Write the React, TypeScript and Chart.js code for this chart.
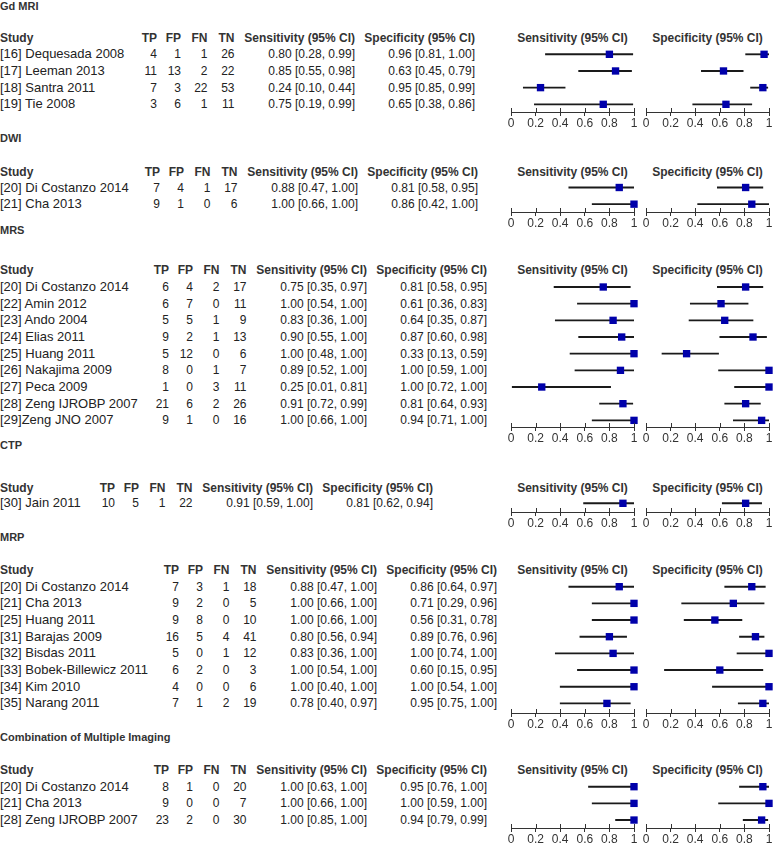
import React, { useEffect, useRef } from 'react';
import { Chart, registerables } from 'chart.js';

Chart.register(...registerables);

// ---------------- DATA ----------------
const GROUP_TITLES = ['Gd MRI', 'DWI', 'MRS', 'CTP', 'MRP', 'Combination of Multiple Imaging'];
const HEADER_LABELS = ['Study', 'TP', 'FP', 'FN', 'TN', 'Sensitivity (95% CI)', 'Specificity (95% CI)'];
const PLOT_HEADERS = ['Sensitivity (95% CI)', 'Specificity (95% CI)'];

// Gd MRI
const GD_STUDIES = ['[16] Dequesada 2008', '[17] Leeman 2013', '[18] Santra 2011', '[19] Tie 2008'];
const GD_TP = [4, 11, 7, 3];
const GD_FP = [1, 13, 3, 6];
const GD_FN = [1, 2, 22, 1];
const GD_TN = [26, 22, 53, 11];
const GD_SENS = [0.80, 0.85, 0.24, 0.75];
const GD_SENS_CI = [[0.28, 0.99], [0.55, 0.98], [0.10, 0.44], [0.19, 0.99]];
const GD_SPEC = [0.96, 0.63, 0.95, 0.65];
const GD_SPEC_CI = [[0.81, 1.00], [0.45, 0.79], [0.85, 0.99], [0.38, 0.86]];

// DWI
const DWI_STUDIES = ['[20] Di Costanzo 2014', '[21] Cha 2013'];
const DWI_TP = [7, 9];
const DWI_FP = [4, 1];
const DWI_FN = [1, 0];
const DWI_TN = [17, 6];
const DWI_SENS = [0.88, 1.00];
const DWI_SENS_CI = [[0.47, 1.00], [0.66, 1.00]];
const DWI_SPEC = [0.81, 0.86];
const DWI_SPEC_CI = [[0.58, 0.95], [0.42, 1.00]];

// MRS
const MRS_STUDIES = ['[20] Di Costanzo 2014', '[22] Amin 2012', '[23] Ando 2004', '[24] Elias 2011', '[25] Huang 2011',
  '[26] Nakajima 2009', '[27] Peca 2009', '[28] Zeng IJROBP 2007', '[29]Zeng JNO 2007'];
const MRS_TP = [6, 6, 5, 9, 5, 8, 1, 21, 9];
const MRS_FP = [4, 7, 5, 2, 12, 0, 0, 6, 1];
const MRS_FN = [2, 0, 1, 1, 0, 1, 3, 2, 0];
const MRS_TN = [17, 11, 9, 13, 6, 7, 11, 26, 16];
const MRS_SENS = [0.75, 1.00, 0.83, 0.90, 1.00, 0.89, 0.25, 0.91, 1.00];
const MRS_SENS_CI = [[0.35, 0.97], [0.54, 1.00], [0.36, 1.00], [0.55, 1.00], [0.48, 1.00], [0.52, 1.00], [0.01, 0.81], [0.72, 0.99], [0.66, 1.00]];
const MRS_SPEC = [0.81, 0.61, 0.64, 0.87, 0.33, 1.00, 1.00, 0.81, 0.94];
const MRS_SPEC_CI = [[0.58, 0.95], [0.36, 0.83], [0.35, 0.87], [0.60, 0.98], [0.13, 0.59], [0.59, 1.00], [0.72, 1.00], [0.64, 0.93], [0.71, 1.00]];

// CTP
const CTP_STUDIES = ['[30] Jain 2011'];
const CTP_TP = [10];
const CTP_FP = [5];
const CTP_FN = [1];
const CTP_TN = [22];
const CTP_SENS = [0.91];
const CTP_SENS_CI = [[0.59, 1.00]];
const CTP_SPEC = [0.81];
const CTP_SPEC_CI = [[0.62, 0.94]];

// MRP
const MRP_STUDIES = ['[20] Di Costanzo 2014', '[21] Cha 2013', '[25] Huang 2011', '[31] Barajas 2009', '[32] Bisdas 2011',
  '[33] Bobek-Billewicz 2011', '[34] Kim 2010', '[35] Narang 2011'];
const MRP_TP = [7, 9, 9, 16, 5, 6, 4, 7];
const MRP_FP = [3, 2, 8, 5, 0, 2, 0, 1];
const MRP_FN = [1, 0, 0, 4, 1, 0, 0, 2];
const MRP_TN = [18, 5, 10, 41, 12, 3, 6, 19];
const MRP_SENS = [0.88, 1.00, 1.00, 0.80, 0.83, 1.00, 1.00, 0.78];
const MRP_SENS_CI = [[0.47, 1.00], [0.66, 1.00], [0.66, 1.00], [0.56, 0.94], [0.36, 1.00], [0.54, 1.00], [0.40, 1.00], [0.40, 0.97]];
const MRP_SPEC = [0.86, 0.71, 0.56, 0.89, 1.00, 0.60, 1.00, 0.95];
const MRP_SPEC_CI = [[0.64, 0.97], [0.29, 0.96], [0.31, 0.78], [0.76, 0.96], [0.74, 1.00], [0.15, 0.95], [0.54, 1.00], [0.75, 1.00]];

// Combination of Multiple Imaging
const CMB_STUDIES = ['[20] Di Costanzo 2014', '[21] Cha 2013', '[28] Zeng IJROBP 2007'];
const CMB_TP = [8, 9, 23];
const CMB_FP = [1, 0, 2];
const CMB_FN = [0, 0, 0];
const CMB_TN = [20, 7, 30];
const CMB_SENS = [1.00, 1.00, 1.00];
const CMB_SENS_CI = [[0.63, 1.00], [0.66, 1.00], [0.85, 1.00]];
const CMB_SPEC = [0.95, 1.00, 0.94];
const CMB_SPEC_CI = [[0.76, 1.00], [0.59, 1.00], [0.79, 0.99]];

// ---------------- LAYOUT (positions only) ----------------
const ROW_H = 16.67;
const SENS_X0 = 511, SENS_X1 = 634;
const SPEC_X0 = 646, SPEC_X1 = 769;
const FONT = '"Liberation Sans", Arial, Helvetica, sans-serif';
const BLUE = '#0000AA';
const LINE = '#1a1a1a';
// offsets of column right edges relative to the TP column's right edge
const COL_OFFSETS = [0, 24, 50.5, 77.5, 198, 318];

// titleY, headerY, firstRowY, axisY, tpRight
const LAYOUT = [
  { titleY: 6, headerY: 38, firstRowY: 54.3, axisY: 112, tpRight: 157 },
  { titleY: 138, headerY: 172, firstRowY: 187.5, axisY: 212, tpRight: 160 },
  { titleY: 230, headerY: 270, firstRowY: 287, axisY: 427, tpRight: 169 },
  { titleY: 445, headerY: 487.5, firstRowY: 503.3, axisY: 512, tpRight: 115 },
  { titleY: 537, headerY: 570, firstRowY: 586.7, axisY: 713, tpRight: 179 },
  { titleY: 737, headerY: 770, firstRowY: 786.7, axisY: 828, tpRight: 169 },
];

const GROUPS = [
  { title: GROUP_TITLES[0], studies: GD_STUDIES, tp: GD_TP, fp: GD_FP, fn: GD_FN, tn: GD_TN, sens: GD_SENS, sensCI: GD_SENS_CI, spec: GD_SPEC, specCI: GD_SPEC_CI },
  { title: GROUP_TITLES[1], studies: DWI_STUDIES, tp: DWI_TP, fp: DWI_FP, fn: DWI_FN, tn: DWI_TN, sens: DWI_SENS, sensCI: DWI_SENS_CI, spec: DWI_SPEC, specCI: DWI_SPEC_CI },
  { title: GROUP_TITLES[2], studies: MRS_STUDIES, tp: MRS_TP, fp: MRS_FP, fn: MRS_FN, tn: MRS_TN, sens: MRS_SENS, sensCI: MRS_SENS_CI, spec: MRS_SPEC, specCI: MRS_SPEC_CI },
  { title: GROUP_TITLES[3], studies: CTP_STUDIES, tp: CTP_TP, fp: CTP_FP, fn: CTP_FN, tn: CTP_TN, sens: CTP_SENS, sensCI: CTP_SENS_CI, spec: CTP_SPEC, specCI: CTP_SPEC_CI },
  { title: GROUP_TITLES[4], studies: MRP_STUDIES, tp: MRP_TP, fp: MRP_FP, fn: MRP_FN, tn: MRP_TN, sens: MRP_SENS, sensCI: MRP_SENS_CI, spec: MRP_SPEC, specCI: MRP_SPEC_CI },
  { title: GROUP_TITLES[5], studies: CMB_STUDIES, tp: CMB_TP, fp: CMB_FP, fn: CMB_FN, tn: CMB_TN, sens: CMB_SENS, sensCI: CMB_SENS_CI, spec: CMB_SPEC, specCI: CMB_SPEC_CI },
];

const fmtCI = (v: number, ci: number[]) => `${v.toFixed(2)} [${ci[0].toFixed(2)}, ${ci[1].toFixed(2)}]`;

type TxtProps = { x: number; y: number; text: string; align?: 'left' | 'right' | 'center'; bold?: boolean; size?: number; color?: string };
function Txt({ x, y, text, align = 'left', bold = false, size = 12, color = '#222' }: TxtProps) {
  const w = 300;
  const style: any = {
    position: 'absolute', top: y - 8, height: 16, lineHeight: '16px', fontSize: size,
    fontWeight: bold ? 'bold' : 'normal', color, fontFamily: FONT, whiteSpace: 'pre',
  };
  if (align === 'left') style.left = x;
  else if (align === 'right') { style.left = x - w; style.width = w; style.textAlign = 'right'; }
  else { style.left = x - w / 2; style.width = w; style.textAlign = 'center'; }
  return <div style={style}>{text}</div>;
}

const tickUpPlugin = {
  id: 'tickUp',
  afterDraw(chart: any) {
    const s = chart.scales.x;
    const ctx = chart.ctx;
    ctx.save();
    ctx.strokeStyle = '#333';
    ctx.lineWidth = 1;
    s.ticks.forEach((t: any) => {
      const px = Math.round(s.getPixelForValue(t.value)) + 0.5;
      ctx.beginPath();
      ctx.moveTo(px, s.top - 4);
      ctx.lineTo(px, s.top + 0.5);
      ctx.stroke();
    });
    ctx.restore();
  },
};

type PanelProps = { est: number[]; ci: number[][]; x0: number; x1: number; firstRowY: number; axisY: number };
function ForestPanel({ est, ci, x0, x1, firstRowY, axisY }: PanelProps) {
  const ref = useRef<HTMLCanvasElement>(null);
  const PAD_X = 14, PAD_T = 8, AXIS_H = 22;
  const areaW = x1 - x0;
  const areaTop = firstRowY - 0.5 * ROW_H;
  const areaH = axisY - areaTop;
  const top = Math.floor(areaTop - PAD_T);
  const padT = areaTop - top;
  const H = Math.ceil(padT + areaH + AXIS_H + 2);
  const padB = H - padT - areaH - AXIS_H;
  const W = areaW + 2 * PAD_X;
  const yMax = (axisY - firstRowY) / ROW_H;

  useEffect(() => {
    if (!ref.current) return;
    const chart = new Chart(ref.current, {
      type: 'bar',
      data: {
        datasets: [
          {
            type: 'scatter',
            data: est.map((v, i) => ({ x: v, y: i })),
            pointStyle: 'rect',
            pointRadius: 5.2,
            pointHoverRadius: 5.2,
            pointBackgroundColor: BLUE,
            pointBorderColor: BLUE,
            pointBorderWidth: 0,
            clip: false,
            order: 0,
          } as any,
          {
            type: 'bar',
            data: ci.map((c, i) => ({ x: [c[0], c[1]], y: i })),
            backgroundColor: LINE,
            borderWidth: 0,
            barThickness: 1.2,
            grouped: false,
            order: 1,
          } as any,
        ],
      },
      options: {
        indexAxis: 'y',
        animation: false,
        responsive: false,
        maintainAspectRatio: false,
        events: [],
        layout: { padding: { left: PAD_X, right: PAD_X, top: padT, bottom: padB }, autoPadding: false },
        plugins: { legend: { display: false }, tooltip: { enabled: false } },
        scales: {
          y: { type: 'linear', min: -0.5, max: yMax, reverse: true, display: false, offset: false, grace: 0 },
          x: {
            type: 'linear', min: 0, max: 1, position: 'bottom', offset: false,
            ticks: {
              stepSize: 0.2, padding: 0, color: '#333', font: { family: FONT, size: 12 }, maxRotation: 0, autoSkip: false,
              callback: (v: any) => String(Math.round(Number(v) * 10) / 10),
            },
            grid: { drawOnChartArea: false, tickLength: 4, color: '#333' },
            border: { display: true, color: '#333', width: 1 },
            afterFit: (s: any) => { s.height = AXIS_H; },
          },
        },
      } as any,
      plugins: [tickUpPlugin],
    });
    return () => chart.destroy();
  }, []);

  return (
    <canvas
      ref={ref}
      width={W}
      height={H}
      style={{ position: 'absolute', left: x0 - PAD_X, top, width: W, height: H }}
    />
  );
}

export default function App() {
  return (
    <div style={{ position: 'absolute', left: 0, top: 0, width: 774, height: 843, background: '#fff', overflow: 'hidden' }}>
      {GROUPS.map((g, gi) => {
        const L = LAYOUT[gi];
        const cols = COL_OFFSETS.map((o) => L.tpRight + o);
        const items: any[] = [];
        items.push(<Txt key="title" x={0} y={L.titleY} text={g.title} bold size={11} color="#333" />);
        items.push(<Txt key="h0" x={0} y={L.headerY} text={HEADER_LABELS[0]} bold color="#333" />);
        for (let c = 0; c < 6; c++) {
          items.push(<Txt key={'h' + (c + 1)} x={cols[c]} y={L.headerY} text={HEADER_LABELS[c + 1]} align="right" bold color="#333" />);
        }
        items.push(<Txt key="ph0" x={(SENS_X0 + SENS_X1) / 2} y={L.headerY} text={PLOT_HEADERS[0]} align="center" bold color="#333" />);
        items.push(<Txt key="ph1" x={(SPEC_X0 + SPEC_X1) / 2} y={L.headerY} text={PLOT_HEADERS[1]} align="center" bold color="#333" />);
        g.studies.forEach((s, i) => {
          const y = L.firstRowY + i * ROW_H;
          const vals = [String(g.tp[i]), String(g.fp[i]), String(g.fn[i]), String(g.tn[i]), fmtCI(g.sens[i], g.sensCI[i]), fmtCI(g.spec[i], g.specCI[i])];
          items.push(<Txt key={'s' + i} x={0} y={y} text={s} size={13} />);
          vals.forEach((v, c) => items.push(<Txt key={'v' + i + '_' + c} x={cols[c]} y={y} text={v} align="right" />));
        });
        return (
          <React.Fragment key={gi}>
            {items}
            <ForestPanel est={g.sens} ci={g.sensCI} x0={SENS_X0} x1={SENS_X1} firstRowY={L.firstRowY} axisY={L.axisY} />
            <ForestPanel est={g.spec} ci={g.specCI} x0={SPEC_X0} x1={SPEC_X1} firstRowY={L.firstRowY} axisY={L.axisY} />
          </React.Fragment>
        );
      })}
    </div>
  );
}
